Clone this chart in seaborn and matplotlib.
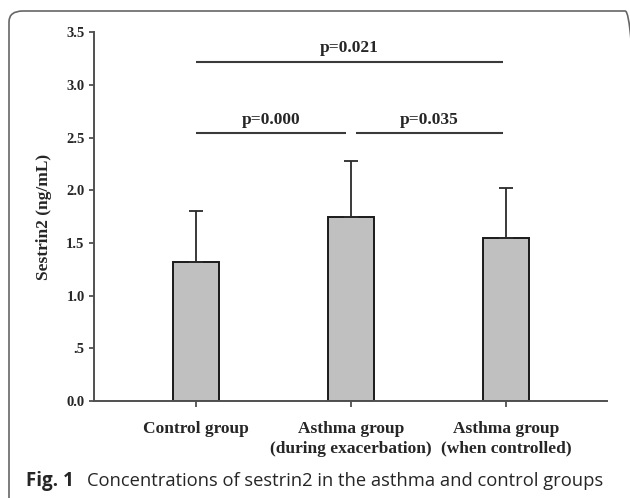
import matplotlib
matplotlib.use("Agg")
import matplotlib.pyplot as plt
import seaborn as sns
import pandas as pd
from matplotlib.patches import FancyBboxPatch

groups = ["Control group", "Asthma group\n(during exacerbation)", "Asthma group\n(when controlled)"]
means = [1.32, 1.75, 1.55]
sds = [0.48, 0.53, 0.47]
ytick_vals = [0.0, 0.5, 1.0, 1.5, 2.0, 2.5, 3.0, 3.5]
ytick_labels = ["0.0", ".5", "1.0", "1.5", "2.0", "2.5", "3.0", "3.5"]
# (left group, right group, y, label)
comparisons = [(0, 1.98, 3.22, "p=0.021"), (0, 0.97, 2.54, "p=0.000"), (1.035, 1.98, 2.54, "p=0.035")]
caption_bold = "Fig. 1"
caption_text = "Concentrations of sestrin2 in the asthma and control groups"

sns.set_theme(style="ticks")
plt.rcParams["font.family"] = ["Liberation Serif", "DejaVu Serif"]

df = pd.DataFrame({"group": groups, "mean": means})

fig = plt.figure(figsize=(6.3, 4.98), dpi=100)
ax = fig.add_axes([0.1486, 0.195, 0.8144, 0.74])

sns.barplot(data=df, x="group", y="mean", color="#c0c0c0", width=0.3,
            edgecolor="#1a1a1a", linewidth=1.4, saturation=1, ax=ax)
ax.errorbar(range(len(groups)), means, yerr=[[0] * len(sds), sds], fmt="none",
            ecolor="#2a2a2a", elinewidth=1.3, capsize=5, capthick=1.3)

for x0, x1, y, label in comparisons:
    ax.plot([x0, x1], [y, y], color="#3a3a3a", lw=1.5, solid_capstyle="butt")
    ax.text((x0 + x1) / 2, y + 0.09, label, ha="center", va="baseline",
            fontsize=12.5, fontweight="bold")

ax.set_xlim(-0.66, 2.65)
ax.set_ylim(0, 3.5)
ax.set_yticks(ytick_vals)
ax.set_yticklabels(ytick_labels)
ax.set_xlabel("")
ax.set_ylabel("Sestrin2 (ng/mL)", fontsize=12.5, fontweight="bold", labelpad=10)
sns.despine(ax=ax)
for s in ["left", "bottom"]:
    ax.spines[s].set_color("#505050")
    ax.spines[s].set_linewidth(1.4)
ax.tick_params(axis="y", labelsize=10.5, length=3.5, width=1.3, color="#505050", pad=3)
ax.tick_params(axis="x", labelsize=12.5, length=4.5, width=1.3, color="#505050", pad=10)
for lab in ax.get_xticklabels() + ax.get_yticklabels():
    lab.set_fontweight("bold")
for lab in ax.get_xticklabels():
    lab.set_linespacing(1.3)

border = FancyBboxPatch((9 / 630, -0.05), 1.0, 1 - 11 / 498 + 0.05,
                        boxstyle="round,pad=0,rounding_size=0.022",
                        transform=fig.transFigure, fill=False,
                        edgecolor="#666666", lw=1.2, clip_on=False)
fig.patches.append(border)

fig.text(26 / 630, 1 - 481 / 498, caption_bold, fontsize=13.5, fontweight="bold",
         family=["Open Sans", "DejaVu Sans"], va="center", ha="left")
fig.text(87 / 630, 1 - 481 / 498, caption_text, fontsize=13.2,
         family=["Open Sans", "DejaVu Sans"], va="center", ha="left")

fig.savefig("out.png", dpi=100)
